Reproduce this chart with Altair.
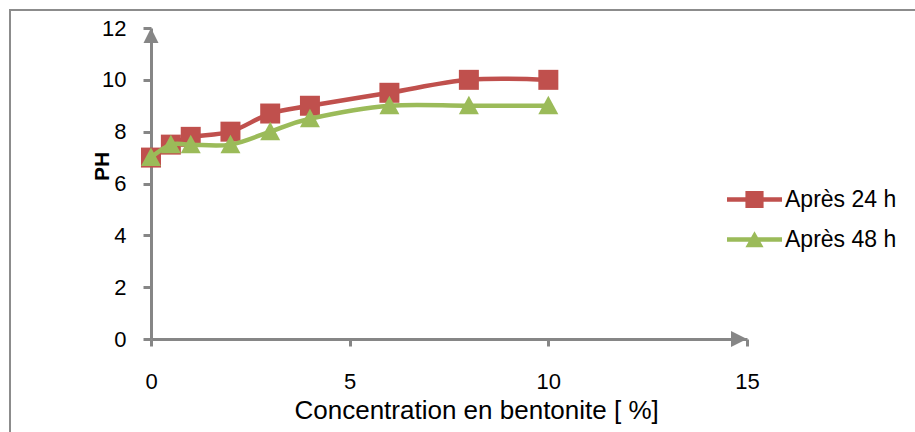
import altair as alt
import pandas as pd

# pH of the suspensions versus bentonite concentration
conc = [0, 0.5, 1, 2, 3, 4, 6, 8, 10]
ph_24h = [7.0, 7.5, 7.8, 8.0, 8.7, 9.0, 9.5, 10.0, 10.0]
ph_48h = [7.0, 7.5, 7.5, 7.5, 8.0, 8.5, 9.0, 9.0, 9.0]
series = ["Après 24 h", "Après 48 h"]
colors = ["#C0504D", "#9BBB59"]

x_ticks = [0, 5, 10, 15]
y_ticks = [0, 2, 4, 6, 8, 10, 12]

FONT = "Liberation Sans"
AXIS_GREY = "#868686"

df24 = pd.DataFrame({"conc": conc, "ph": ph_24h, "serie": series[0]})
df48 = pd.DataFrame({"conc": conc, "ph": ph_48h, "serie": series[1]})
df_all = pd.concat([df24, df48], ignore_index=True)

TRIANGLE = "M0,-1L1,0.85L-1,0.85Z"
LEG_SQUARE = "M-1,-0.08H1V0.08H-1Z M-0.33,-0.31H0.33V0.31H-0.33Z"
LEG_TRIANGLE = "M-1,-0.08H1V0.08H-1Z M0,-0.3L0.33,0.28L-0.33,0.28Z"

x_enc = alt.X(
    "conc:Q",
    scale=alt.Scale(domain=[x_ticks[0], x_ticks[-1]], nice=False),
    axis=alt.Axis(
        values=x_ticks,
        grid=False,
        domainColor=AXIS_GREY,
        domainWidth=3,
        tickColor=AXIS_GREY,
        tickWidth=3,
        tickSize=7,
        labelPadding=25,
        labelFont=FONT,
        labelFontSize=22,
        labelColor="black",
        labelFlush=False,
        title="Concentration en bentonite [ %]",
        titleFont=FONT,
        titleFontSize=26,
        titleFontWeight="normal",
        titleColor="black",
        titleAlign="left",
        titleBaseline="alphabetic",
        titleX=143,
        titleY=79,
    ),
)
y_enc = alt.Y(
    "ph:Q",
    scale=alt.Scale(domain=[y_ticks[0], y_ticks[-1]], nice=False),
    axis=alt.Axis(
        values=y_ticks,
        grid=False,
        domainColor=AXIS_GREY,
        domainWidth=3,
        tickColor=AXIS_GREY,
        tickWidth=3,
        tickSize=8,
        labelPadding=17,
        labelFont=FONT,
        labelFontSize=22,
        labelColor="black",
        labelFlush=False,
        title="PH",
        titleFont=FONT,
        titleFontSize=21,
        titleFontWeight="bold",
        titleColor="black",
        titleAlign="center",
        titleBaseline="alphabetic",
        titleAngle=270,
        titleX=-43,
        titleY=138,
    ),
)

# outer chart frame
frame = alt.Chart(pd.DataFrame({"k": [0]})).mark_rect(
    fill="transparent", stroke="#8c8c8c", strokeWidth=2
).encode(
    x=alt.value(-141), x2=alt.value(800), y=alt.value(-18), y2=alt.value(500)
)


def series_layers(df, color, shape):
    base = alt.Chart(df).encode(x=x_enc, y=y_enc)
    line = base.mark_line(
        color=color, strokeWidth=4.5, interpolate="cardinal", tension=0
    )
    pts = base.mark_point(
        shape=shape, filled=True, color=color, size=400, opacity=1
    )
    return [line, pts]


# arrow heads at the ends of the axes
arrow_up = alt.Chart(pd.DataFrame({"conc": [x_ticks[0]], "ph": [y_ticks[-1]]})).mark_point(
    shape="M0,0L0.5,1L-0.5,1Z", filled=True, color=AXIS_GREY, size=900, opacity=1
).encode(x=x_enc, y=y_enc)
arrow_right = alt.Chart(pd.DataFrame({"conc": [x_ticks[-1]], "ph": [y_ticks[0]]})).mark_point(
    shape="M0,0L-1,-0.5L-1,0.5Z", filled=True, color=AXIS_GREY, size=1024, opacity=1
).encode(x=x_enc, y=y_enc)

# legend entries (line + marker symbols)
legend_layer = alt.Chart(df_all).transform_filter("false").mark_point(
    filled=True, opacity=1
).encode(
    x=x_enc,
    y=y_enc,
    color=alt.Color(
        "serie:N",
        scale=alt.Scale(domain=series, range=colors),
        legend=alt.Legend(
            title=None,
            orient="none",
            legendX=576,
            legendY=144,
            padding=0,
            symbolSize=3025,
            symbolStrokeWidth=0,
            labelFont=FONT,
            labelFontSize=23,
            labelColor="black",
            labelOffset=3,
            rowPadding=-7,
        ),
    ),
    shape=alt.Shape(
        "serie:N",
        scale=alt.Scale(domain=series, range=[LEG_SQUARE, LEG_TRIANGLE]),
        legend=alt.Legend(title=None),
    ),
)

layers = (
    [frame, arrow_up, arrow_right]
    + series_layers(df24, colors[0], "square")
    + series_layers(df48, colors[1], TRIANGLE)
    + [legend_layer]
)

chart = alt.layer(*layers).properties(
    width=596,
    height=311,
    autosize=alt.AutoSizeParams(type="none"),
    padding={"left": 151, "top": 28, "right": 168, "bottom": 93},
    background="white",
).configure_view(stroke=None)

chart.save("out.html", embed_options={"renderer": "svg", "actions": False})
